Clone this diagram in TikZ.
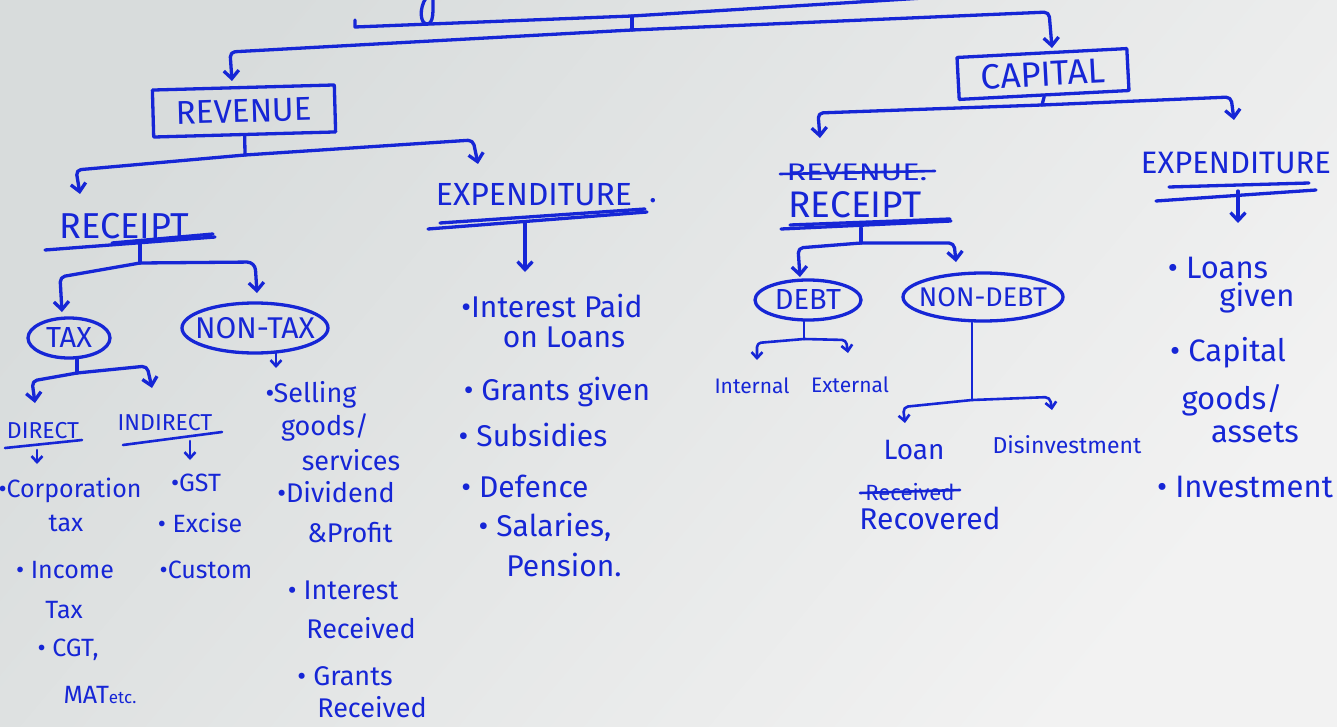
\documentclass[tikz,border=0pt]{standalone}
\usepackage{fontspec}
\setmainfont{Fira Sans}
\usetikzlibrary{arrows.meta,shapes.geometric,calc}
\definecolor{inkc}{RGB}{22,38,214}
\definecolor{paperA}{RGB}{216,220,220}
\definecolor{paperB}{RGB}{242,242,242}
\begin{document}
\begin{tikzpicture}[x=1pt,y=-1pt,
  pen/.style={draw=inkc, line width=3.3pt, line cap=round, line join=round},
  thin/.style={pen, line width=2.6pt},
  arr/.style={pen, -{Straight Barb[length=8pt,width=15pt]}},
  sarr/.style={thin, -{Straight Barb[length=6pt,width=11pt]}},
  lbl/.style={text=inkc, inner sep=0pt, font=\fontsize{#1}{#1}\selectfont},
  boxed/.style={pen, rectangle, inner sep=0pt},
  oval/.style={pen, ellipse, inner sep=0pt},
]
% paper
\fill[paperB] (0,0) rectangle (1337,727);
\shade[shading=axis, top color=paperA, bottom color=paperB, shading angle=50] (0,0) rectangle (1337,727);
\useasboundingbox (0,0) rectangle (1337,727);

% title bar at the top edge
\draw[pen] (426,-2) .. controls (419,8) and (420,24) .. (427,24) .. controls (434,24) and (433,10) .. (433,-2);
\coordinate (rootL) at (355,20);
\coordinate (rootJ) at (632,16);
\coordinate (rootR) at (940,-3);
\coordinate (splitJ) at (632,30);
\draw[pen] (rootL) -- (355,27) -- (rootJ) -- (rootR);
\draw[pen] (rootJ) -- (splitJ);

% first split
\node[boxed, lbl=33, rotate=1.6, minimum width=182pt, minimum height=47pt] (rev) at (244,111) {REVENUE};
\node[boxed, lbl=35, rotate=3, minimum width=170pt, minimum height=42pt] (cap) at (1043,74) {CAPITAL};
\coordinate (revIn) at (232,81);
\coordinate (capIn) at (1052,48);
\draw[arr, rounded corners=5pt] (splitJ) -- (230,52) -- (revIn);
\draw[arr, rounded corners=5pt] (splitJ) -- (1049,12) -- (capIn);

% revenue side
\coordinate (revJ) at (245,155);
\coordinate (rrIn) at (80,194);
\coordinate (reIn) at (478,164);
\draw[pen] (rev.south) -- (revJ);
\draw[arr, rounded corners=5pt] (revJ) -- (76,170) -- (rrIn);
\draw[arr, rounded corners=5pt] (revJ) -- (473,140) -- (reIn);

\node[lbl=36] (rrc) at (124,226) {RECEIPT};
\draw[pen] (45,250) -- (215,237);
\draw[pen] (112,243) -- (213,234);
\node[lbl=32] (rexp) at (534,195) {EXPENDITURE};
\node[lbl=32, anchor=base] (rexpdot) at (653,203) {.};
\draw[pen] (428,229) -- (647,212);
\draw[pen] (440,223) -- (645,209);

% receipt: tax / non-tax
\coordinate (rcS) at (140,244);
\coordinate (rcJ) at (140,263);
\coordinate (taxIn) at (62,312);
\coordinate (ntaxIn) at (257,293);
\draw[pen] (rcS) -- (rcJ);
\draw[arr, rounded corners=5pt] (rcJ) -- (60,277) -- (taxIn);
\draw[arr, rounded corners=8pt] (rcJ) -- (255,262) -- (ntaxIn);

\node[oval, lbl=29, minimum width=82pt, minimum height=40pt] (tax) at (69,338) {\makebox[0pt]{TAX}};
\node[oval, lbl=30, minimum width=146pt, minimum height=50pt] (ntax) at (255,328) {\makebox[0pt]{NON-TAX}};

% tax: direct / indirect
\coordinate (taxJ) at (77,373);
\coordinate (dirIn) at (35,403);
\coordinate (indIn) at (152,388);
\draw[pen] (tax.south -| taxJ) -- (taxJ);
\draw[arr, rounded corners=5pt] (taxJ) -- (32,381) -- (dirIn);
\draw[arr, rounded corners=5pt] (taxJ) -- (147,366) -- (indIn);

\node[lbl=23] (dir) at (43,431) {DIRECT};
\draw[thin] (5,448) -- (82,440);
\node[lbl=23] (indir) at (165,423) {INDIRECT};
\draw[thin] (123,445) -- (222,432);
\coordinate (dirS) at (37,450);
\coordinate (dirL) at (37,464);
\coordinate (indS) at (190,441);
\coordinate (indL) at (190,460);
\draw[sarr] (dirS) -- (dirL);
\draw[sarr] (indS) -- (indL);

% direct taxes
\node[lbl=25] (d1) at (70,490) {•Corporation};
\node[lbl=25] (d1b) at (66,523) {tax};
\node[lbl=25] (d2) at (65,570) {• Income};
\node[lbl=25] (d2b) at (64,610) {Tax};
\node[lbl=25] (d3) at (68,650) {• CGT,};
\node[lbl=25] (d3b) at (100,695) {MAT{\fontsize{17}{17}\selectfont etc.}};

% indirect taxes
\node[lbl=25] (i1) at (196,483) {•GST};
\node[lbl=25] (i2) at (200,523) {• Excise};
\node[lbl=25] (i3) at (206,570) {•Custom};

% non-tax receipts
\coordinate (ntS) at (276,353);
\coordinate (ntL) at (276,368);
\draw[sarr] (ntS) -- (ntL);
\node[lbl=27] (n1) at (311,395) {•Selling};
\node[lbl=27] (n1b) at (325,427) {goods/};
\node[lbl=27] (n1c) at (351,460) {services};
\node[lbl=27] (n2) at (336,492) {•Dividend};
\node[lbl=27] (n2b) at (350,533) {\&Profit};
\node[lbl=27] (n3) at (343,590) {• Interest};
\node[lbl=27] (n3b) at (361,628) {Received};
\node[lbl=27] (n4) at (345,676) {• Grants};
\node[lbl=27] (n4b) at (372,707) {Received};

% revenue expenditure
\coordinate (reS) at (525,222);
\coordinate (reL) at (525,272);
\draw[arr] (reS) -- (reL);
\node[lbl=30] (e1) at (552,306) {•Interest Paid};
\node[lbl=30] (e1b) at (564,337) {on Loans};
\node[lbl=30] (e2) at (557,392) {• Grants given};
\node[lbl=30] (e3) at (533,435) {• Subsidies};
\node[lbl=30] (e4) at (525,486) {• Defence};
\node[lbl=30] (e5) at (545,527) {• Salaries,};
\node[lbl=30] (e5b) at (564,565) {Pension.};

% capital side
\coordinate (capJ) at (1042,105);
\coordinate (crIn) at (820,138);
\coordinate (ceIn) at (1234,120);
\draw[pen] (cap.south) -- (capJ);
\draw[arr, rounded corners=5pt] (capJ) -- (818,113) -- (crIn);
\draw[arr, rounded corners=5pt] (capJ) -- (1231,97) -- (ceIn);

\node[lbl=24] (crx) at (857,172) {\scalebox{1.35}[1]{REVENUE.}};
\draw[thin] (780,174) -- (935,171);
\node[lbl=37] (crc) at (855,205) {RECEIPT};
\draw[pen] (781,229) -- (951,221);
\draw[pen] (790,225) -- (950,219);

\node[lbl=31] (cexp) at (1236,163) {EXPENDITURE};
\draw[pen] (1169,187) -- (1309,183);
\draw[pen] (1156,201) -- (1316,190);
\coordinate (ceS) at (1238,191);
\coordinate (ceL) at (1238,223);
\draw[arr] (ceS) -- (ceL);

% capital receipt: debt / non-debt
\coordinate (crS) at (861,228);
\coordinate (crJ) at (861,243);
\coordinate (debtIn) at (800,277);
\coordinate (ndebtIn) at (956,262);
\draw[pen] (crS) -- (crJ);
\draw[arr, rounded corners=5pt] (crJ) -- (798,248) -- (debtIn);
\draw[arr, rounded corners=5pt] (crJ) -- (954,243) -- (ndebtIn);

\node[oval, lbl=29, minimum width=106pt, minimum height=40pt] (debt) at (808,300) {\makebox[0pt]{DEBT}};
\node[oval, lbl=27, minimum width=160pt, minimum height=48pt] (ndebt) at (983,297) {\makebox[0pt]{NON-DEBT}};

% debt: internal / external
\coordinate (debtJ) at (804,339);
\coordinate (intIn) at (757,360);
\coordinate (extIn) at (848,353);
\draw[thin] (debt.south -| debtJ) -- (debtJ);
\draw[sarr, rounded corners=4pt] (debtJ) -- (757,343) -- (intIn);
\draw[sarr, rounded corners=4pt] (debtJ) -- (846,340) -- (extIn);
\node[lbl=21] (int) at (752,386) {Internal};
\node[lbl=21] (ext) at (850,385) {External};

% non-debt: loan recovered / disinvestment
\coordinate (ndJ) at (972,400);
\coordinate (loanIn) at (905,423);
\coordinate (disIn) at (1052,410);
\draw[thin] (ndebt.south -| ndJ) -- (ndJ);
\draw[sarr, rounded corners=5pt] (ndJ) -- (903,407) -- (loanIn);
\draw[sarr, rounded corners=5pt] (ndJ) -- (1050,397) -- (disIn);
\node[lbl=28] (loan) at (914,450) {Loan};
\node[lbl=23] (dis) at (1067,445) {Disinvestment};
\node[lbl=22] (lrx) at (910,492) {Received};
\draw[thin] (860,493) -- (960,490);
\node[lbl=30] (lrc) at (930,518) {Recovered};

% capital expenditure
\node[lbl=31] (c1) at (1218,268) {• Loans};
\node[lbl=31] (c1b) at (1257,298) {given};
\node[lbl=31] (c2) at (1228,353) {• Capital};
\node[lbl=31] (c2b) at (1232,400) {goods/};
\node[lbl=31] (c2c) at (1255,432) {assets};
\node[lbl=31] (c3) at (1245,487) {• Investment};
\end{tikzpicture}
\end{document}
